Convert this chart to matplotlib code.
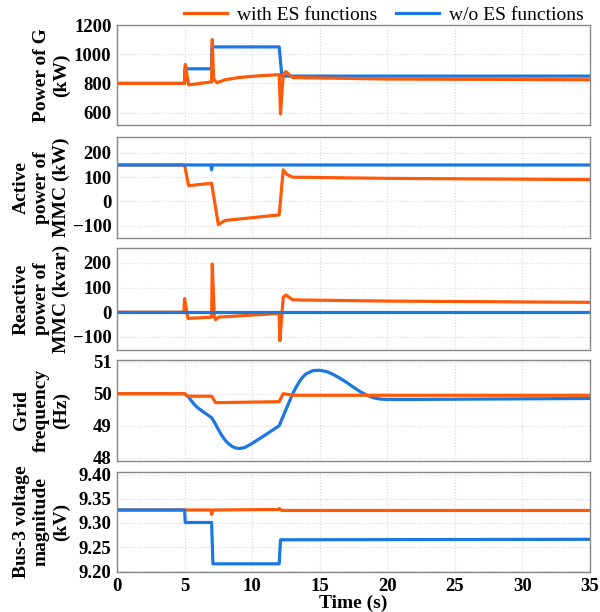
import matplotlib
matplotlib.use("Agg")
import matplotlib.pyplot as plt
import numpy as np

plt.rcParams['font.family'] = ['Liberation Serif', 'DejaVu Serif']
plt.rcParams['font.weight'] = 'bold'

ORANGE = '#FF5A0A'
BLUE = '#1A78E0'

# Power of G (kW)
pg_t_es = [0, 5.0, 5.05, 5.3, 7.0, 7.05, 7.15, 7.4, 8, 9, 10.5, 12.0, 12.1, 12.3, 12.5, 13, 20, 35]
pg_es = [800, 800, 930, 790, 810, 1100, 830, 805, 825, 840, 852, 860, 590, 860, 880, 840, 830, 825]
pg_t_wo = [0, 5.0, 5.02, 7.0, 7.02, 12.0, 12.2, 35]
pg_wo = [800, 800, 900, 900, 1050, 1050, 850, 850]

# Active power of MMC (kW)
ap_t_es = [0, 5.0, 5.3, 7.0, 7.5, 8.0, 12.0, 12.3, 12.6, 13, 20, 35]
ap_es = [150, 150, 65, 75, -95, -78, -55, 130, 110, 100, 95, 90]
ap_t_wo = [0, 6.95, 7.0, 7.05, 35]
ap_wo = [150, 150, 130, 150, 150]

# Reactive power of MMC (kvar)
rp_t_es = [0, 4.95, 5.0, 5.25, 7.0, 7.05, 7.2, 7.3, 7.5, 12.0, 12.05, 12.3, 12.5, 13, 20, 35]
rp_es = [0, 0, 55, -25, -20, 195, -20, -30, -20, -5, -115, 60, 70, 50, 45, 40]
rp_t_wo = [0, 35]
rp_wo = [0, 0]

# Grid frequency (Hz)
gf_t_es = [0, 5.0, 5.2, 7.0, 7.3, 9, 12.0, 12.3, 13, 35]
gf_es = [50, 50, 49.92, 49.92, 49.72, 49.73, 49.75, 50.0, 49.95, 49.95]
gf_t_wo = [0, 5.0, 5.25, 5.5, 5.75, 6.0, 6.5, 7.0, 7.25, 7.5, 7.75, 8.0, 8.25, 8.5, 8.75, 9.0,
           9.25, 9.5, 10.0, 11.0, 12.0, 12.25, 12.5, 12.75, 13.0, 13.25, 13.5, 13.75, 14.0,
           14.5, 15.0, 15.5, 16.0, 16.5, 17.0, 17.5, 18.0, 18.5, 19.0, 19.5, 20.0, 22.0, 35]
gf_wo = [50, 50, 49.92, 49.78, 49.65, 49.55, 49.4, 49.25, 49.08, 48.88, 48.7, 48.55, 48.44, 48.36,
         48.31, 48.29, 48.3, 48.33, 48.45, 48.72, 49.0, 49.25, 49.5, 49.75, 50.0, 50.2, 50.38,
         50.52, 50.62, 50.72, 50.73, 50.69, 50.6, 50.48, 50.35, 50.2, 50.06, 49.95, 49.87, 49.83,
         49.82, 49.82, 49.85]

# Bus-3 voltage magnitude (kV)
bv_t_es = [0, 6.95, 7.0, 7.1, 11.95, 12.0, 12.2, 35]
bv_es = [9.327, 9.327, 9.318, 9.327, 9.328, 9.33, 9.326, 9.326]
bv_t_wo = [0, 5.0, 5.05, 7.0, 7.1, 12.0, 12.1, 35]
bv_wo = [9.327, 9.327, 9.301, 9.301, 9.215, 9.215, 9.265, 9.266]

panels = [
    (pg_t_es, pg_es, pg_t_wo, pg_wo, 'Power of G\n(kW)', (515, 1200), [600, 800, 1000, 1200], '%d', True),
    (ap_t_es, ap_es, ap_t_wo, ap_wo, 'Active\npower of\nMMC (kW)', (-150, 265), [-100, 0, 100, 200], '%d', False),
    (rp_t_es, rp_es, rp_t_wo, rp_wo, 'Reactive\npower of\nMMC (kvar)', (-153, 260), [-100, 0, 100, 200], '%d', False),
    (gf_t_es, gf_es, gf_t_wo, gf_wo, 'Grid\nfrequency\n(Hz)', (47.9, 51.05), [48, 49, 50, 51], '%d', True),
    (bv_t_es, bv_es, bv_t_wo, bv_wo, 'Bus-3 voltage\nmagnitude\n(kV)', (9.198, 9.406), [9.20, 9.25, 9.30, 9.35, 9.40], '%.2f', False),
]

tops = [25, 137, 248, 360, 472]
bots = [125, 238, 350, 461, 572]
H = 612.0

fig = plt.figure(figsize=(6, 6.12), dpi=100)
axes = []
for i, (te, ye, tw, yw, lab, ylim, yt, fmt, es_top) in enumerate(panels):
    ax = fig.add_axes([117 / 600, 1 - bots[i] / H, 473 / 600, (bots[i] - tops[i]) / H])
    if es_top:
        l2, = ax.plot(tw, yw, color=BLUE, lw=2.3, label='w/o ES functions')
        l1, = ax.plot(te, ye, color=ORANGE, lw=2.3, label='with ES functions')
    else:
        l1, = ax.plot(te, ye, color=ORANGE, lw=2.3, label='with ES functions')
        l2, = ax.plot(tw, yw, color=BLUE, lw=2.3, label='w/o ES functions')
    ax.set_xlim(0, 35)
    ax.set_ylim(*ylim)
    ax.set_yticks(yt)
    ax.set_yticklabels([(fmt % v).replace('-', '\u2212') for v in yt])
    ax.set_xticks(range(0, 36, 5))
    ax.grid(True, ls=':', color='#d8d8d8', lw=0.8)
    ax.tick_params(length=0, labelsize=13.5, pad=4)
    for s in ax.spines.values():
        s.set_color('#888888')
        s.set_linewidth(1.0)
    ax.set_ylabel(lab, fontsize=14, fontweight='bold', linespacing=1.2)
    ax.yaxis.set_label_coords(-0.10, 0.5)
    if i < 4:
        ax.set_xticklabels([])
    axes.append(ax)

axes[-1].set_xlabel('Time (s)', fontsize=14, fontweight='bold', labelpad=0)
fig.legend([l1, l2], ['with ES functions', 'w/o ES functions'], loc='upper center',
           bbox_to_anchor=(0.64, 1.018), ncol=2, frameon=False,
           handlelength=2.2, columnspacing=1.0, handletextpad=0.5,
           prop={'weight': 'normal', 'size': 14})

fig.savefig('out.png', dpi=100)
